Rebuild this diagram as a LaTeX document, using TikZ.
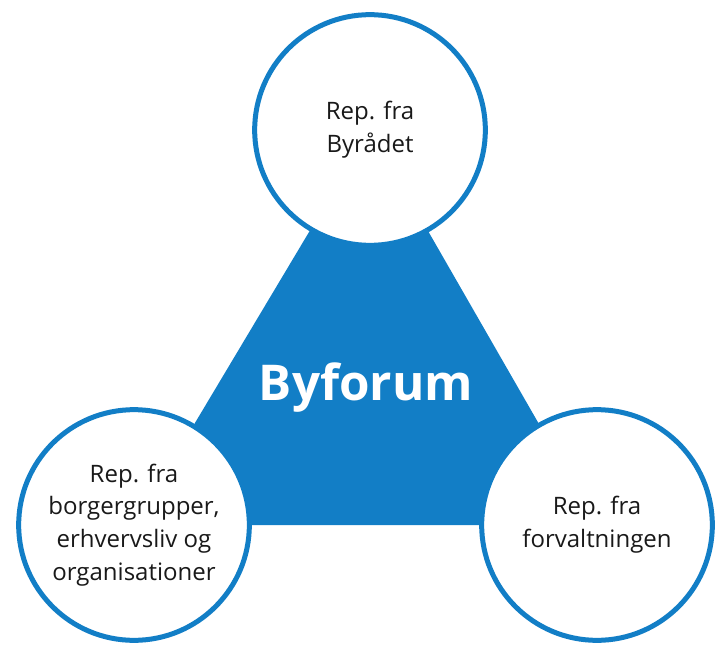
\documentclass[tikz,border=0pt]{standalone}
\usepackage{fontspec}
\setmainfont{Open Sans}
\usetikzlibrary{backgrounds}
\definecolor{byblue}{RGB}{18,126,198}
\tikzset{
  repcircle/.style={circle, draw=byblue, fill=white, line width=3.75pt,
    minimum size=173pt, inner sep=0pt, align=center, text=black!90,
    font=\fontsize{18}{24.5}\selectfont},
}

\begin{document}
\begin{tikzpicture}[x=0.75pt, y=-0.75pt]
			%%%%% START %%%%%
			
			\useasboundingbox (0, 0) rectangle (716, 652);
			
			\node[repcircle] (byraad) at (370, 130) {Rep. fra\\Byrådet};
			\node[repcircle] (borger) at (134, 525) {Rep. fra\\borgergrupper,\\erhvervsliv og\\organisationer};
			\node[repcircle] (forvalt) at (597, 525) {Rep. fra\\forvaltningen};
			
			\begin{scope}[on background layer]
				\fill[byblue] (byraad.center) -- (borger.center) -- (forvalt.center) -- cycle;
			\end{scope}
			
			\node[text=white, font=\fontsize{37}{44}\bfseries\selectfont] (byforum) at (366, 388) {Byforum};
			
			%%%%% END %%%%%
		\end{tikzpicture}
\end{document}
